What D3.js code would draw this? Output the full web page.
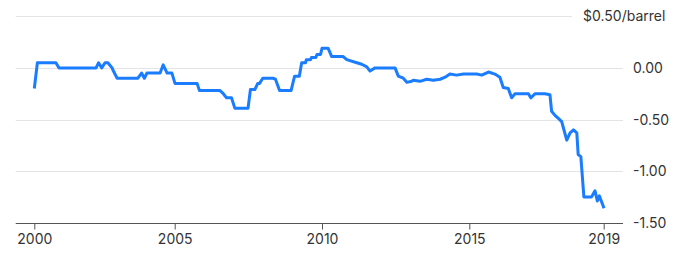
<!DOCTYPE html>
<html>
<head>
<meta charset="utf-8">
<script src="https://cdn.jsdelivr.net/npm/d3@7"></script>
<style>
  body { margin: 0; background: #fff; }
  svg text { font-family: Inter, "Liberation Sans", sans-serif; font-size: 14px; fill: #333; }
</style>
</head>
<body>
<svg id="chart" width="680" height="263"></svg>
<script>
// Spread in $/barrel, sampled where the line changes
const years = [
  2000.00, 2000.11, 2000.77, 2000.88, 2002.20, 2002.29, 2002.40, 2002.52, 2002.62, 2002.77,
  2002.80, 2002.95, 2003.69, 2003.82, 2003.92, 2004.01, 2004.48, 2004.59, 2004.73, 2004.90,
  2005.01, 2005.76, 2005.84, 2006.54, 2006.65, 2006.76, 2006.93, 2007.04, 2007.49, 2007.57,
  2007.72, 2007.82, 2007.88, 2007.99, 2008.33, 2008.42, 2008.56, 2008.95, 2009.07, 2009.23,
  2009.31, 2009.44, 2009.47, 2009.61, 2009.64, 2009.79, 2009.83, 2009.95, 2010.00, 2010.21,
  2010.33, 2010.72, 2010.84, 2011.18, 2011.35, 2011.52, 2011.63, 2011.80, 2012.48, 2012.59,
  2012.76, 2012.88, 2013.04, 2013.10, 2013.33, 2013.55, 2013.78, 2014.01, 2014.18, 2014.34,
  2014.57, 2014.80, 2015.22, 2015.37, 2015.57, 2015.76, 2015.91, 2016.01, 2016.16, 2016.26,
  2016.36, 2016.76, 2016.83, 2016.96, 2017.25, 2017.40, 2017.45, 2017.55, 2017.65, 2017.75,
  2017.80, 2017.90, 2018.00, 2018.10, 2018.20, 2018.24, 2018.32, 2018.41, 2018.64, 2018.74,
  2018.81, 2018.87, 2019.01
];
const spread = [
  -0.20, 0.05, 0.05, 0.00, 0.00, 0.05, 0.00, 0.05, 0.05, 0.00,
  -0.02, -0.10, -0.10, -0.05, -0.10, -0.05, -0.05, 0.03, -0.05, -0.05,
  -0.15, -0.15, -0.22, -0.22, -0.25, -0.29, -0.29, -0.39, -0.39, -0.21,
  -0.21, -0.15, -0.15, -0.10, -0.10, -0.11, -0.22, -0.22, -0.08, -0.08,
  0.05, 0.05, 0.08, 0.08, 0.10, 0.10, 0.13, 0.13, 0.19, 0.19,
  0.11, 0.11, 0.08, 0.05, 0.035, 0.01, -0.03, 0.00, 0.00, -0.08,
  -0.10, -0.14, -0.13, -0.12, -0.13, -0.11, -0.12, -0.11, -0.09, -0.06,
  -0.07, -0.06, -0.06, -0.07, -0.04, -0.06, -0.09, -0.19, -0.20, -0.29,
  -0.25, -0.25, -0.29, -0.25, -0.25, -0.26, -0.42, -0.46, -0.49, -0.52,
  -0.58, -0.70, -0.63, -0.60, -0.63, -0.84, -0.86, -1.25, -1.25, -1.19,
  -1.29, -1.24, -1.36
];
const xTicks = [2000, 2005, 2010, 2015, 2019];
const yTicks = [0.5, 0, -0.5, -1, -1.5];

const svg = d3.select('#chart');

// x axis is not evenly spaced in the original, so use a piecewise scale
const x = d3.scaleLinear()
  .domain(xTicks)
  .range([34.3, 174.7, 322, 469.3, 603.7]);
const y = d3.scaleLinear()
  .domain([-1.5, 0.5])
  .range([222.7, 16.3]);

const left = 15.7, right = 623;

// y labels first so gridlines can stop before them
const yLabels = svg.append('g').selectAll('text')
  .data(yTicks)
  .enter().append('text')
    .attr('x', d => d === 0.5 ? 583 : 633)
    .attr('y', d => y(d) + 5)
    .text(d => d === 0.5 ? '$' + d.toFixed(2) + '/barrel' : d.toFixed(2));

// gridlines (skip bottom, that's the axis)
svg.insert('g', ':first-child').selectAll('line')
  .data(yTicks.filter(d => d > -1.5))
  .enter().append('line')
    .attr('x1', left)
    .attr('x2', d => d === 0.5 ? 572 : right)
    .attr('y1', d => Math.round(y(d)) + 0.5)
    .attr('y2', d => Math.round(y(d)) + 0.5)
    .attr('stroke', '#e4e4e4')
    .attr('stroke-width', 1);

// x axis
const xAxis = svg.append('g')
  .attr('transform', `translate(0,${Math.round(y(-1.5)) + 0.5})`)
  .call(d3.axisBottom(x).tickValues(xTicks).tickFormat(d3.format('d')).tickSize(6).tickSizeOuter(0));
xAxis.select('.domain').remove();
xAxis.insert('line', ':first-child')
  .attr('x1', left).attr('x2', right)
  .attr('stroke', '#555');
xAxis.selectAll('.tick line').attr('stroke', '#555');
xAxis.selectAll('.tick text')
  .attr('y', 11)
  .attr('dy', '0.71em')
  .style('font-family', 'Inter, "Liberation Sans", sans-serif')
  .style('font-size', '14px')
  .attr('fill', '#333');

// the spread line
const points = years.map((yr, i) => [yr, spread[i]]);
svg.append('path')
  .datum(points)
  .attr('fill', 'none')
  .attr('stroke', '#1a7cff')
  .attr('stroke-width', 3)
  .attr('stroke-linejoin', 'round')
  .attr('d', d3.line().x(d => x(d[0])).y(d => y(d[1])));
</script>
</body>
</html>
